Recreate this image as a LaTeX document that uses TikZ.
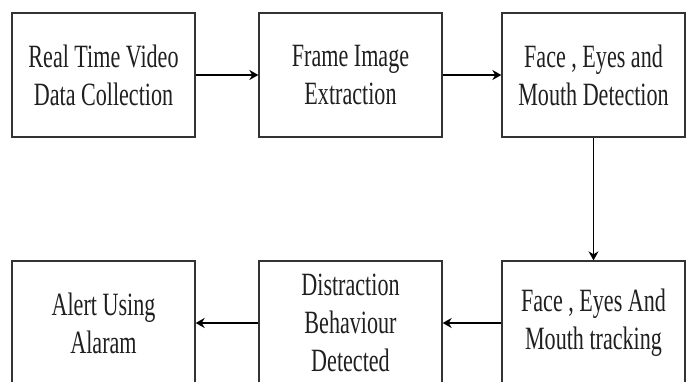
\documentclass[tikz,border=0pt]{standalone}
\usepackage{fontspec}
\setmainfont{Liberation Serif}[FakeStretch=0.68]
\usetikzlibrary{arrows.meta}

\tikzset{
  stage/.style={draw=black!80, line width=1.3pt, minimum width=183pt, minimum height=124pt,
    align=center, inner sep=0pt, font=\fontsize{32.5}{38}\selectfont, text=black!88},
  flow/.style={line width=1.5pt, -{Stealth[length=9pt,width=10pt]}}
}

\begin{document}
\begin{tikzpicture}[x=1pt,y=1pt]
\useasboundingbox (0,0) rectangle (692,-382);
\clip (0,0) rectangle (692,-382);

% top row
\node [stage] (video)  at (103.5,-75) {Real Time Video\\Data Collection};
\node [stage] (frame)  at (350.5,-75) {Frame Image\\Extraction};
\node [stage] (detect) at (593.5,-75) {Face , Eyes and\\Mouth Detection};

% bottom row
\node [stage] (track)    at (593.5,-323) {Face , Eyes And\\Mouth tracking};
\node [stage] (distract) at (350.5,-323) {Distraction\\Behaviour\\Detected};
\node [stage] (alert)    at (103.5,-323) {Alert Using\\Alaram};

\begin{scope}[flow]
\draw (video) -- (frame);
\draw (frame) -- (detect);
\draw [line width=1.1pt] (detect) -- (track);
\draw (track) -- (distract);
\draw (distract) -- (alert);
\end{scope}

\end{tikzpicture}
\end{document}
